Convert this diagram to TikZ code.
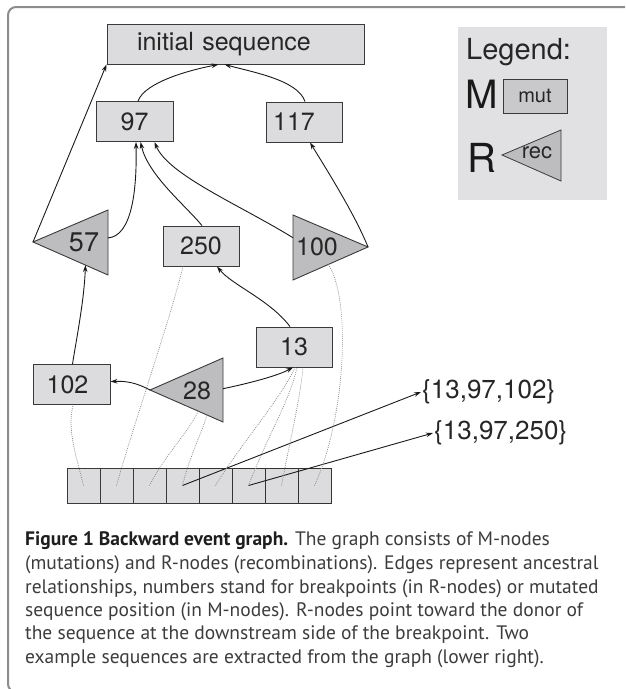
\documentclass[tikz,border=0pt]{standalone}
\usepackage{fontspec}
\newfontfamily\graphfont{TeX Gyre Heros}
\newfontfamily\capfont{PT Sans}
\usetikzlibrary{arrows.meta,calc}
\definecolor{framegray}{HTML}{8C8C8C}
\definecolor{boxfill}{HTML}{DCDCDE}
\definecolor{trifill}{HTML}{BDBDBF}
\definecolor{legfill}{HTML}{E1E1E3}
\definecolor{legbox}{HTML}{C9C9CB}
\definecolor{linec}{HTML}{3A3A3A}
\definecolor{edgec}{HTML}{1A1A1A}
\definecolor{dotc}{HTML}{8A8A8A}
\definecolor{captext}{HTML}{3C3C3C}
\definecolor{capbold}{HTML}{1E1E1E}
\newcommand{\fsz}[1]{\fontsize{#1}{#1}\selectfont}
\begin{document}
\begin{tikzpicture}[x=1pt,y=-1pt,
  mbox/.style={draw=linec, fill=boxfill, line width=0.9pt, minimum width=77pt,
    minimum height=40pt, inner sep=0pt, font=\graphfont\fsz{25}, text=black!85},
  rtri/.style={draw=linec, fill=trifill, line width=0.9pt, line join=miter},
  numtxt/.style={inner sep=0pt, font=\graphfont\fsz{25}, text=black!85},
  edge/.style={draw=edgec, line width=0.9pt, -{Stealth[length=7pt,width=4.6pt]}},
  dotline/.style={draw=dotc, line width=0.7pt, dash pattern=on 0.9pt off 1.1pt},
  cell/.style={draw=linec, fill=boxfill, line width=0.8pt, minimum width=33pt,
    minimum height=35pt, inner sep=0pt},
  cellb/.style={cell, draw=black!80, line width=0.95pt},
  seqlab/.style={inner sep=1pt, font=\graphfont\fsz{26}, text=black!85},
  captionline/.style={inner sep=0pt, font=\capfont\fsz{19.5}, text=captext}
]
\useasboundingbox (0,0) rectangle (625,689);
\clip (0,0) rectangle (625,689);

% figure frame
\draw[framegray, line width=2pt, rounded corners=8pt] (40,692) -- (8,692) -- (8,7) -- (660,7);

% legend
\fill[legfill] (458,27) rectangle (607,200);
\node[inner sep=0pt, anchor=base west, font=\graphfont\fsz{29}, text=black!85] (legtitle) at (466,59) {Legend:};
\node[inner sep=0pt, anchor=base west, font=\graphfont\fsz{39}, text=black!90] (legM) at (465,108) {M};
\node[draw=linec, fill=legbox, line width=0.8pt, minimum width=64pt, minimum height=34pt,
  inner sep=0pt, font=\graphfont\fsz{20}, text=black!85] (legmut) at (535,96) {mut};
\node[inner sep=0pt, anchor=base west, font=\graphfont\fsz{40}, text=black!90] (legR) at (467,172) {R};
\draw[rtri, line width=0.8pt] (502,155) coordinate (legtip) -- (561,130) coordinate (legtop)
  -- (561,181) coordinate (legbot) -- cycle;
\node[inner sep=0pt, font=\graphfont\fsz{22}, text=black!85] (legrec) at (537,153) {rec};

% M-nodes
\node[mbox, minimum width=257pt, text width=197pt, align=left, inner xsep=30pt] (init) at (235.5,44) {initial sequence};
\node[mbox] (m97) at (134.5,121.5) {97};
\node[mbox, minimum width=76pt] (m117) at (304,122) {\hspace*{-20pt}117};
\node[mbox, minimum width=76pt] (m250) at (201,246) {250};
\node[mbox, minimum width=76pt] (m13) at (294,347) {13};
\node[mbox] (m102) at (71.5,384.5) {\hspace*{-8pt}102};

% R-nodes
\draw[rtri] (33,242) coordinate (r57tip) -- (108,210) coordinate (r57top)
  -- (108,275) coordinate (r57bot) -- cycle;
\node[numtxt, font=\graphfont\fsz{27}] (r57) at (84,242) {57};
\draw[rtri] (368,247) coordinate (r100tip) -- (293,215) coordinate (r100top)
  -- (293,280) coordinate (r100bot) -- cycle;
\node[numtxt] (r100) at (317,247) {100};
\draw[rtri] (150,390) coordinate (r28tip) -- (223,358) coordinate (r28top)
  -- (223,422) coordinate (r28bot) -- cycle;
\node[numtxt] (r28) at (197,391) {28};

% sequence cells
\foreach \i in {1,...,4} {
  \node[cell] (c\i) at ({67+33*(\i-0.5)},485.5) {};
}
\foreach \i in {5,...,8} {
  \node[cellb] (c\i) at ({67+33*(\i-0.5)},485.5) {};
}

% extracted sequences
\node[seqlab, anchor=west] (s1) at (421,392) {\{13,97,102\}};
\node[seqlab, anchor=west] (s2) at (433,433) {\{13,97,250\}};

% ancestral edges
\draw[edge] (r57tip) -- (init.south west);
\draw[edge] ($(r57top)!0.43!(r57bot)$) .. controls (132,236) and (137,190) .. ([xshift=1.5pt]m97.south);
\draw[edge] ([xshift=3.5pt]m97.north) .. controls (145,82) and (190,70) .. ([xshift=-17pt]init.south);
\draw[edge] ([xshift=1pt]m117.north) .. controls (298,80) and (252,72) .. ([xshift=-11pt]init.south);
\draw[edge] ([xshift=1pt]m250.north) .. controls (185,205) and (148,175) .. ([xshift=6pt]m97.south);
\draw[edge] ($(r100top)!0.35!(r100bot)$) .. controls (240,205) and (168,175) .. ([xshift=20pt]m97.south);
\draw[edge] (r100tip) .. controls (355,215) and (330,175) .. ([xshift=6pt]m117.south);
\draw[edge] ([xshift=1pt]m102.north) .. controls (78,330) and (84,300) .. ($(r57tip)!0.7!(r57bot)$);
\draw[edge] ([xshift=-4pt]m13.north) .. controls (270,300) and (232,285) .. ([xshift=16pt]m250.south);
\draw[edge] (r28tip) .. controls (135,382) and (125,381) .. ([yshift=3pt]m102.east);
\draw[edge] ($(r28top)!0.48!(r28bot)$) .. controls (250,383) and (277,376) .. ([xshift=-1pt]m13.south);
\draw[edge] (c4.center) -- (s1.west);
\draw[edge] (c6.center) -- (s2.west);

% position links
\draw[dotline] (c1.center) .. controls (76,455) and (67,430) .. ([xshift=1.5pt]m102.south);
\draw[dotline] (c2.center) .. controls (135,420) and (170,320) .. ([xshift=-18pt]m250.south);
\draw[dotline] (c3.center) .. controls (165,455) and (190,430) .. ($(r28tip)!0.66!(r28bot)$);
\draw[dotline] (c4.center) .. controls (190,455) and (203,430) .. ($(r28tip)!0.78!(r28bot)$);
\draw[dotline] (c5.center) .. controls (240,445) and (280,400) .. ([xshift=1pt]m13.south);
\draw[dotline] (c6.center) .. controls (268,435) and (290,400) .. ([xshift=3pt]m13.south);
\draw[dotline] (c7.center) .. controls (290,440) and (300,400) .. ([xshift=9pt]m13.south);
\draw[dotline] (c8.center) .. controls (345,420) and (352,300) .. ($(r100bot)!0.47!(r100tip)$);

% caption
\node[captionline, anchor=base west] (cap1) at (25,545) {{\bfseries\color{capbold}Figure 1 Backward event graph.} The graph consists of M-nodes};
\node[captionline, anchor=base west] (cap2) at (25,569) {(mutations) and R-nodes (recombinations). Edges represent ancestral};
\node[captionline, anchor=base west] (cap3) at (25,593) {relationships, numbers stand for breakpoints (in R-nodes) or mutated};
\node[captionline, anchor=base west] (cap4) at (25,616) {sequence position (in M-nodes). R-nodes point toward the donor of};
\node[captionline, anchor=base west] (cap5) at (25,639) {the sequence at the downstream side of the breakpoint. Two};
\node[captionline, anchor=base west] (cap6) at (25,663) {example sequences are extracted from the graph (lower right).};
\end{tikzpicture}
\end{document}
